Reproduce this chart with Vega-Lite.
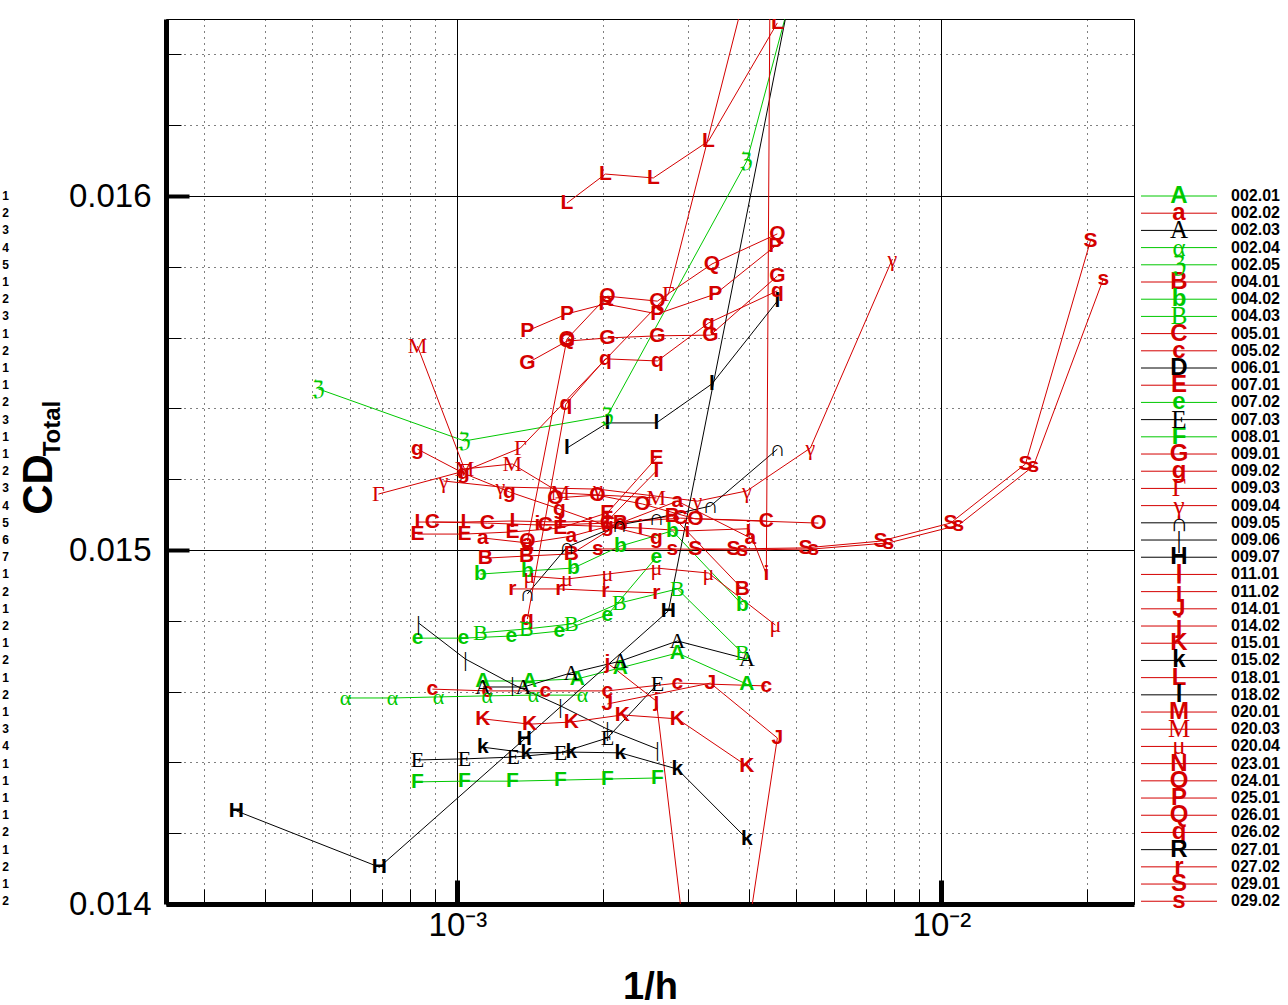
{
  "$schema": "https://vega.github.io/schema/vega-lite/v6.json",
  "padding": {"left": 0, "top": 18, "right": 0, "bottom": 0},
  "background": "white",
  "bounds": "flush",
  "spacing": 7,
  "config": {"view": {"stroke": null}, "font": "Liberation Sans"},
  "resolve": {
    "scale": {"x": "independent", "y": "independent", "color": "shared"},
    "axis": {"x": "independent", "y": "independent"}
  },
  "datasets": {
    "legend": [
      {"series": "002.01", "sym": "A", "row": 0, "sub": "1"},
      {"series": "002.02", "sym": "a", "row": 1, "sub": "2"},
      {"series": "002.03", "sym": "A", "row": 2, "sub": "3"},
      {"series": "002.04", "sym": "α", "row": 3, "sub": "4"},
      {"series": "002.05", "sym": "ℨ", "row": 4, "sub": "5"},
      {"series": "004.01", "sym": "B", "row": 5, "sub": "1"},
      {"series": "004.02", "sym": "b", "row": 6, "sub": "2"},
      {"series": "004.03", "sym": "B", "row": 7, "sub": "3"},
      {"series": "005.01", "sym": "C", "row": 8, "sub": "1"},
      {"series": "005.02", "sym": "c", "row": 9, "sub": "2"},
      {"series": "006.01", "sym": "D", "row": 10, "sub": "1"},
      {"series": "007.01", "sym": "E", "row": 11, "sub": "1"},
      {"series": "007.02", "sym": "e", "row": 12, "sub": "2"},
      {"series": "007.03", "sym": "E", "row": 13, "sub": "3"},
      {"series": "008.01", "sym": "F", "row": 14, "sub": "1"},
      {"series": "009.01", "sym": "G", "row": 15, "sub": "1"},
      {"series": "009.02", "sym": "g", "row": 16, "sub": "2"},
      {"series": "009.03", "sym": "Γ", "row": 17, "sub": "3"},
      {"series": "009.04", "sym": "γ", "row": 18, "sub": "4"},
      {"series": "009.05", "sym": "∩", "row": 19, "sub": "5"},
      {"series": "009.06", "sym": "|", "row": 20, "sub": "6"},
      {"series": "009.07", "sym": "H", "row": 21, "sub": "7"},
      {"series": "011.01", "sym": "I", "row": 22, "sub": "1"},
      {"series": "011.02", "sym": "i", "row": 23, "sub": "2"},
      {"series": "014.01", "sym": "J", "row": 24, "sub": "1"},
      {"series": "014.02", "sym": "j", "row": 25, "sub": "2"},
      {"series": "015.01", "sym": "K", "row": 26, "sub": "1"},
      {"series": "015.02", "sym": "k", "row": 27, "sub": "2"},
      {"series": "018.01", "sym": "L", "row": 28, "sub": "1"},
      {"series": "018.02", "sym": "l", "row": 29, "sub": "2"},
      {"series": "020.01", "sym": "M", "row": 30, "sub": "1"},
      {"series": "020.03", "sym": "M", "row": 31, "sub": "3"},
      {"series": "020.04", "sym": "μ", "row": 32, "sub": "4"},
      {"series": "023.01", "sym": "N", "row": 33, "sub": "1"},
      {"series": "024.01", "sym": "O", "row": 34, "sub": "1"},
      {"series": "025.01", "sym": "P", "row": 35, "sub": "1"},
      {"series": "026.01", "sym": "Q", "row": 36, "sub": "1"},
      {"series": "026.02", "sym": "q", "row": 37, "sub": "2"},
      {"series": "027.01", "sym": "R", "row": 38, "sub": "1"},
      {"series": "027.02", "sym": "r", "row": 39, "sub": "2"},
      {"series": "029.01", "sym": "S", "row": 40, "sub": "1"},
      {"series": "029.02", "sym": "s", "row": 41, "sub": "2"}
    ],
    "pts": [
      {"series": "002.01", "k": 0, "inv_h": 0.001129, "cd": 0.01463},
      {"series": "002.01", "k": 1, "inv_h": 0.001409, "cd": 0.01463},
      {"series": "002.01", "k": 2, "inv_h": 0.00177, "cd": 0.014636},
      {"series": "002.01", "k": 3, "inv_h": 0.002171, "cd": 0.014667},
      {"series": "002.01", "k": 4, "inv_h": 0.002848, "cd": 0.014709},
      {"series": "002.01", "k": 5, "inv_h": 0.003964, "cd": 0.014621},

      {"series": "002.02", "k": 0, "inv_h": 0.001129, "cd": 0.015034},
      {"series": "002.02", "k": 1, "inv_h": 0.001395, "cd": 0.01502},
      {"series": "002.02", "k": 2, "inv_h": 0.00172, "cd": 0.015039},
      {"series": "002.02", "k": 3, "inv_h": 0.002171, "cd": 0.015076},
      {"series": "002.02", "k": 4, "inv_h": 0.002848, "cd": 0.015138},
      {"series": "002.02", "k": 5, "inv_h": 0.004031, "cd": 0.015034},

      {"series": "002.03", "k": 0, "inv_h": 0.001129, "cd": 0.014613},
      {"series": "002.03", "k": 1, "inv_h": 0.001369, "cd": 0.014613},
      {"series": "002.03", "k": 2, "inv_h": 0.00172, "cd": 0.014653},
      {"series": "002.03", "k": 3, "inv_h": 0.002171, "cd": 0.014686},
      {"series": "002.03", "k": 4, "inv_h": 0.002848, "cd": 0.014743},
      {"series": "002.03", "k": 5, "inv_h": 0.003964, "cd": 0.014692},

      {"series": "002.04", "k": 0, "inv_h": 0.000587, "cd": 0.014582},
      {"series": "002.04", "k": 1, "inv_h": 0.000734, "cd": 0.014582},
      {"series": "002.04", "k": 2, "inv_h": 0.000914, "cd": 0.014585},
      {"series": "002.04", "k": 3, "inv_h": 0.001153, "cd": 0.014588},
      {"series": "002.04", "k": 4, "inv_h": 0.001436, "cd": 0.01459},
      {"series": "002.04", "k": 5, "inv_h": 0.001813, "cd": 0.01459},

      {"series": "002.05", "k": 0, "inv_h": 0.0005162, "cd": 0.015455},
      {"series": "002.05", "k": 1, "inv_h": 0.001034, "cd": 0.015308},
      {"series": "002.05", "k": 2, "inv_h": 0.002041, "cd": 0.015379},
      {"series": "002.05", "k": 3, "inv_h": 0.003964, "cd": 0.016099},
      {"series": "002.05", "k": 4, "inv_h": 0.007772, "cd": 0.017596},

      {"series": "004.01", "k": 0, "inv_h": 0.001142, "cd": 0.014977},
      {"series": "004.01", "k": 1, "inv_h": 0.001389, "cd": 0.014983},
      {"series": "004.01", "k": 2, "inv_h": 0.00172, "cd": 0.014989},
      {"series": "004.01", "k": 3, "inv_h": 0.002171, "cd": 0.015076},
      {"series": "004.01", "k": 4, "inv_h": 0.002781, "cd": 0.015096},
      {"series": "004.01", "k": 5, "inv_h": 0.00388, "cd": 0.01489},

      {"series": "004.02", "k": 0, "inv_h": 0.001116, "cd": 0.014932},
      {"series": "004.02", "k": 1, "inv_h": 0.001395, "cd": 0.014941},
      {"series": "004.02", "k": 2, "inv_h": 0.001737, "cd": 0.014949},
      {"series": "004.02", "k": 3, "inv_h": 0.002171, "cd": 0.015011},
      {"series": "004.02", "k": 4, "inv_h": 0.002781, "cd": 0.015054},
      {"series": "004.02", "k": 5, "inv_h": 0.00388, "cd": 0.014845},

      {"series": "004.03", "k": 0, "inv_h": 0.001116, "cd": 0.014766},
      {"series": "004.03", "k": 1, "inv_h": 0.001389, "cd": 0.014777},
      {"series": "004.03", "k": 2, "inv_h": 0.00172, "cd": 0.014791},
      {"series": "004.03", "k": 3, "inv_h": 0.002161, "cd": 0.01485},
      {"series": "004.03", "k": 4, "inv_h": 0.002848, "cd": 0.01489},
      {"series": "004.03", "k": 5, "inv_h": 0.00388, "cd": 0.014709},

      {"series": "005.01", "k": 0, "inv_h": 0.000888, "cd": 0.015079},
      {"series": "005.01", "k": 1, "inv_h": 0.001153, "cd": 0.015076},
      {"series": "005.01", "k": 2, "inv_h": 0.00152, "cd": 0.01507},
      {"series": "005.01", "k": 3, "inv_h": 0.002041, "cd": 0.015076},
      {"series": "005.01", "k": 4, "inv_h": 0.002889, "cd": 0.01509},
      {"series": "005.01", "k": 5, "inv_h": 0.004348, "cd": 0.015082},

      {"series": "005.02", "k": 0, "inv_h": 0.000888, "cd": 0.014607},
      {"series": "005.02", "k": 1, "inv_h": 0.001153, "cd": 0.014602},
      {"series": "005.02", "k": 2, "inv_h": 0.00152, "cd": 0.014602},
      {"series": "005.02", "k": 3, "inv_h": 0.002041, "cd": 0.014602},
      {"series": "005.02", "k": 4, "inv_h": 0.002848, "cd": 0.014624},
      {"series": "005.02", "k": 5, "inv_h": 0.004348, "cd": 0.014616},

      {"series": "007.01", "k": 0, "inv_h": 0.000827, "cd": 0.015045},
      {"series": "007.01", "k": 1, "inv_h": 0.001034, "cd": 0.015045},
      {"series": "007.01", "k": 2, "inv_h": 0.001299, "cd": 0.015051},
      {"series": "007.01", "k": 3, "inv_h": 0.001632, "cd": 0.015062},
      {"series": "007.01", "k": 4, "inv_h": 0.002041, "cd": 0.015105},
      {"series": "007.01", "k": 5, "inv_h": 0.002577, "cd": 0.01526},

      {"series": "007.02", "k": 0, "inv_h": 0.000827, "cd": 0.014751},
      {"series": "007.02", "k": 1, "inv_h": 0.001029, "cd": 0.014751},
      {"series": "007.02", "k": 2, "inv_h": 0.001293, "cd": 0.014757},
      {"series": "007.02", "k": 3, "inv_h": 0.001624, "cd": 0.014771},
      {"series": "007.02", "k": 4, "inv_h": 0.002041, "cd": 0.014816},
      {"series": "007.02", "k": 5, "inv_h": 0.002577, "cd": 0.01498},

      {"series": "007.03", "k": 0, "inv_h": 0.000827, "cd": 0.014407},
      {"series": "007.03", "k": 1, "inv_h": 0.001034, "cd": 0.01441},
      {"series": "007.03", "k": 2, "inv_h": 0.001304, "cd": 0.014415},
      {"series": "007.03", "k": 3, "inv_h": 0.001632, "cd": 0.014427},
      {"series": "007.03", "k": 4, "inv_h": 0.002041, "cd": 0.014469},
      {"series": "007.03", "k": 5, "inv_h": 0.002589, "cd": 0.014621},

      {"series": "008.01", "k": 0, "inv_h": 0.000827, "cd": 0.014345},
      {"series": "008.01", "k": 1, "inv_h": 0.001034, "cd": 0.014347},
      {"series": "008.01", "k": 2, "inv_h": 0.001299, "cd": 0.014347},
      {"series": "008.01", "k": 3, "inv_h": 0.001632, "cd": 0.01435},
      {"series": "008.01", "k": 4, "inv_h": 0.002041, "cd": 0.014353},
      {"series": "008.01", "k": 5, "inv_h": 0.002589, "cd": 0.014356},

      {"series": "009.01", "k": 0, "inv_h": 0.001395, "cd": 0.015528},
      {"series": "009.01", "k": 1, "inv_h": 0.001684, "cd": 0.01559},
      {"series": "009.01", "k": 2, "inv_h": 0.002041, "cd": 0.015599},
      {"series": "009.01", "k": 3, "inv_h": 0.002589, "cd": 0.015605},
      {"series": "009.01", "k": 4, "inv_h": 0.003332, "cd": 0.015607},
      {"series": "009.01", "k": 5, "inv_h": 0.004582, "cd": 0.015774},

      {"series": "009.02", "k": 0, "inv_h": 0.000827, "cd": 0.015285},
      {"series": "009.02", "k": 1, "inv_h": 0.001029, "cd": 0.015217},
      {"series": "009.02", "k": 2, "inv_h": 0.001281, "cd": 0.015164},
      {"series": "009.02", "k": 3, "inv_h": 0.001624, "cd": 0.015116},
      {"series": "009.02", "k": 4, "inv_h": 0.002041, "cd": 0.015068},
      {"series": "009.02", "k": 5, "inv_h": 0.002577, "cd": 0.015034},

      {"series": "009.03", "k": 0, "inv_h": 0.0006867, "cd": 0.015158},
      {"series": "009.03", "k": 1, "inv_h": 0.001034, "cd": 0.015223},
      {"series": "009.03", "k": 2, "inv_h": 0.001349, "cd": 0.015288},
      {"series": "009.03", "k": 3, "inv_h": 0.002729, "cd": 0.015723},
      {"series": "009.03", "k": 4, "inv_h": 0.004227, "cd": 0.016743},

      {"series": "009.04", "k": 0, "inv_h": 0.000936, "cd": 0.015195},
      {"series": "009.04", "k": 1, "inv_h": 0.001227, "cd": 0.015178},
      {"series": "009.04", "k": 2, "inv_h": 0.001951, "cd": 0.015172},
      {"series": "009.04", "k": 3, "inv_h": 0.003132, "cd": 0.015138},
      {"series": "009.04", "k": 4, "inv_h": 0.003964, "cd": 0.015167},
      {"series": "009.04", "k": 5, "inv_h": 0.005362, "cd": 0.015288},
      {"series": "009.04", "k": 6, "inv_h": 0.007922, "cd": 0.015822},

      {"series": "009.05", "k": 0, "inv_h": 0.001395, "cd": 0.014876},
      {"series": "009.05", "k": 1, "inv_h": 0.001684, "cd": 0.015008},
      {"series": "009.05", "k": 2, "inv_h": 0.002161, "cd": 0.015071},
      {"series": "009.05", "k": 3, "inv_h": 0.002577, "cd": 0.01509},
      {"series": "009.05", "k": 4, "inv_h": 0.003332, "cd": 0.015124},
      {"series": "009.05", "k": 5, "inv_h": 0.004582, "cd": 0.015285},

      {"series": "009.06", "k": 0, "inv_h": 0.000831, "cd": 0.014794},
      {"series": "009.06", "k": 1, "inv_h": 0.001039, "cd": 0.014692},
      {"series": "009.06", "k": 2, "inv_h": 0.001299, "cd": 0.014621},
      {"series": "009.06", "k": 3, "inv_h": 0.001632, "cd": 0.01456},
      {"series": "009.06", "k": 4, "inv_h": 0.002041, "cd": 0.014494},
      {"series": "009.06", "k": 5, "inv_h": 0.002589, "cd": 0.014438},

      {"series": "009.07", "k": 0, "inv_h": 0.0003494, "cd": 0.014263},
      {"series": "009.07", "k": 1, "inv_h": 0.00069, "cd": 0.014104},
      {"series": "009.07", "k": 2, "inv_h": 0.001375, "cd": 0.014466},
      {"series": "009.07", "k": 3, "inv_h": 0.002729, "cd": 0.014828},
      {"series": "009.07", "k": 4, "inv_h": 0.005414, "cd": 0.016887},

      {"series": "011.01", "k": 0, "inv_h": 0.000827, "cd": 0.015079},
      {"series": "011.01", "k": 1, "inv_h": 0.001029, "cd": 0.015079},
      {"series": "011.01", "k": 2, "inv_h": 0.001299, "cd": 0.015082},
      {"series": "011.01", "k": 3, "inv_h": 0.001632, "cd": 0.015079},
      {"series": "011.01", "k": 4, "inv_h": 0.002041, "cd": 0.015082},
      {"series": "011.01", "k": 5, "inv_h": 0.002577, "cd": 0.015223},

      {"series": "011.02", "k": 0, "inv_h": 0.001463, "cd": 0.015073},
      {"series": "011.02", "k": 1, "inv_h": 0.001883, "cd": 0.015068},
      {"series": "011.02", "k": 2, "inv_h": 0.002388, "cd": 0.015062},
      {"series": "011.02", "k": 3, "inv_h": 0.002987, "cd": 0.015054},
      {"series": "011.02", "k": 4, "inv_h": 0.003993, "cd": 0.01506},
      {"series": "011.02", "k": 5, "inv_h": 0.004348, "cd": 0.014932},
      {"series": "011.02", "k": 6, "inv_h": 0.004475, "cd": 0.017681},

      {"series": "014.01", "k": 0, "inv_h": 0.002041, "cd": 0.014565},
      {"series": "014.01", "k": 1, "inv_h": 0.003332, "cd": 0.014624},
      {"series": "014.01", "k": 2, "inv_h": 0.004582, "cd": 0.014469},
      {"series": "014.01", "k": 3, "inv_h": 0.003059, "cd": 0.012878},

      {"series": "014.02", "k": 0, "inv_h": 0.002041, "cd": 0.014681},
      {"series": "014.02", "k": 1, "inv_h": 0.002577, "cd": 0.014573},
      {"series": "014.02", "k": 2, "inv_h": 0.003332, "cd": 0.013283},

      {"series": "015.01", "k": 0, "inv_h": 0.001129, "cd": 0.014523},
      {"series": "015.01", "k": 1, "inv_h": 0.001409, "cd": 0.014508},
      {"series": "015.01", "k": 2, "inv_h": 0.00172, "cd": 0.014514},
      {"series": "015.01", "k": 3, "inv_h": 0.002192, "cd": 0.014534},
      {"series": "015.01", "k": 4, "inv_h": 0.002848, "cd": 0.014523},
      {"series": "015.01", "k": 5, "inv_h": 0.003964, "cd": 0.01439},

      {"series": "015.02", "k": 0, "inv_h": 0.001129, "cd": 0.014443},
      {"series": "015.02", "k": 1, "inv_h": 0.001389, "cd": 0.014427},
      {"series": "015.02", "k": 2, "inv_h": 0.00172, "cd": 0.014429},
      {"series": "015.02", "k": 3, "inv_h": 0.002171, "cd": 0.014427},
      {"series": "015.02", "k": 4, "inv_h": 0.002848, "cd": 0.014381},
      {"series": "015.02", "k": 5, "inv_h": 0.003964, "cd": 0.014184},

      {"series": "018.01", "k": 0, "inv_h": 0.001684, "cd": 0.01598},
      {"series": "018.01", "k": 1, "inv_h": 0.002022, "cd": 0.016062},
      {"series": "018.01", "k": 2, "inv_h": 0.00254, "cd": 0.016051},
      {"series": "018.01", "k": 3, "inv_h": 0.003301, "cd": 0.016155},
      {"series": "018.01", "k": 4, "inv_h": 0.004582, "cd": 0.016489},

      {"series": "018.02", "k": 0, "inv_h": 0.001684, "cd": 0.015288},
      {"series": "018.02", "k": 1, "inv_h": 0.002041, "cd": 0.015359},
      {"series": "018.02", "k": 2, "inv_h": 0.002577, "cd": 0.015359},
      {"series": "018.02", "k": 3, "inv_h": 0.003355, "cd": 0.015469},
      {"series": "018.02", "k": 4, "inv_h": 0.004582, "cd": 0.015703},

      {"series": "020.03", "k": 0, "inv_h": 0.000827, "cd": 0.015576},
      {"series": "020.03", "k": 1, "inv_h": 0.001034, "cd": 0.015229},
      {"series": "020.03", "k": 2, "inv_h": 0.001299, "cd": 0.015243},
      {"series": "020.03", "k": 3, "inv_h": 0.001632, "cd": 0.015161},
      {"series": "020.03", "k": 4, "inv_h": 0.002577, "cd": 0.015147},

      {"series": "020.04", "k": 0, "inv_h": 0.001409, "cd": 0.014926},
      {"series": "020.04", "k": 1, "inv_h": 0.001684, "cd": 0.014918},
      {"series": "020.04", "k": 2, "inv_h": 0.002041, "cd": 0.014932},
      {"series": "020.04", "k": 3, "inv_h": 0.002577, "cd": 0.014949},
      {"series": "020.04", "k": 4, "inv_h": 0.003301, "cd": 0.014935},
      {"series": "020.04", "k": 5, "inv_h": 0.004539, "cd": 0.014788},

      {"series": "024.01", "k": 0, "inv_h": 0.001594, "cd": 0.015147},
      {"series": "024.01", "k": 1, "inv_h": 0.001946, "cd": 0.015155},
      {"series": "024.01", "k": 2, "inv_h": 0.002411, "cd": 0.01513},
      {"series": "024.01", "k": 3, "inv_h": 0.003102, "cd": 0.015088},
      {"series": "024.01", "k": 4, "inv_h": 0.00557, "cd": 0.015076},

      {"series": "025.01", "k": 0, "inv_h": 0.001395, "cd": 0.015619},
      {"series": "025.01", "k": 1, "inv_h": 0.001684, "cd": 0.015667},
      {"series": "025.01", "k": 2, "inv_h": 0.002022, "cd": 0.015695},
      {"series": "025.01", "k": 3, "inv_h": 0.002589, "cd": 0.015667},
      {"series": "025.01", "k": 4, "inv_h": 0.003412, "cd": 0.015723},
      {"series": "025.01", "k": 5, "inv_h": 0.004539, "cd": 0.015859},

      {"series": "026.01", "k": 0, "inv_h": 0.001395, "cd": 0.015025},
      {"series": "026.01", "k": 1, "inv_h": 0.001684, "cd": 0.015596},
      {"series": "026.01", "k": 2, "inv_h": 0.002041, "cd": 0.015717},
      {"series": "026.01", "k": 3, "inv_h": 0.002589, "cd": 0.015703},
      {"series": "026.01", "k": 4, "inv_h": 0.003358, "cd": 0.015808},
      {"series": "026.01", "k": 5, "inv_h": 0.004582, "cd": 0.015893},

      {"series": "026.02", "k": 0, "inv_h": 0.001395, "cd": 0.014805},
      {"series": "026.02", "k": 1, "inv_h": 0.001675, "cd": 0.015412},
      {"series": "026.02", "k": 2, "inv_h": 0.002022, "cd": 0.01554},
      {"series": "026.02", "k": 3, "inv_h": 0.002589, "cd": 0.015534},
      {"series": "026.02", "k": 4, "inv_h": 0.003301, "cd": 0.015641},
      {"series": "026.02", "k": 5, "inv_h": 0.004582, "cd": 0.015732},

      {"series": "027.02", "k": 0, "inv_h": 0.001299, "cd": 0.01489},
      {"series": "027.02", "k": 1, "inv_h": 0.001624, "cd": 0.01489},
      {"series": "027.02", "k": 2, "inv_h": 0.002022, "cd": 0.014884},
      {"series": "027.02", "k": 3, "inv_h": 0.002577, "cd": 0.014879},

      {"series": "029.01", "k": 0, "inv_h": 0.003102, "cd": 0.015003},
      {"series": "029.01", "k": 1, "inv_h": 0.003718, "cd": 0.015003},
      {"series": "029.01", "k": 2, "inv_h": 0.005236, "cd": 0.015006},
      {"series": "029.01", "k": 3, "inv_h": 0.007482, "cd": 0.015025},
      {"series": "029.01", "k": 4, "inv_h": 0.01044, "cd": 0.015076},
      {"series": "029.01", "k": 5, "inv_h": 0.01492, "cd": 0.015243},
      {"series": "029.01", "k": 6, "inv_h": 0.02032, "cd": 0.015873},

      {"series": "029.02", "k": 0, "inv_h": 0.001951, "cd": 0.015003},
      {"series": "029.02", "k": 1, "inv_h": 0.002781, "cd": 0.015003},
      {"series": "029.02", "k": 2, "inv_h": 0.00388, "cd": 0.015},
      {"series": "029.02", "k": 3, "inv_h": 0.005439, "cd": 0.015003},
      {"series": "029.02", "k": 4, "inv_h": 0.007772, "cd": 0.01502},
      {"series": "029.02", "k": 5, "inv_h": 0.01084, "cd": 0.01507},
      {"series": "029.02", "k": 6, "inv_h": 0.01549, "cd": 0.015237},
      {"series": "029.02", "k": 7, "inv_h": 0.02161, "cd": 0.015766}
    ]
  },
  "hconcat": [
    {
      "width": 159,
      "height": 885,
      "data": {"name": "legend"},
      "mark": {"type": "text", "font": "Liberation Sans", "fontWeight": "bold", "fontSize": 12, "align": "center", "baseline": "middle", "color": "black"},
      "encoding": {
        "x": {"datum": 5.5, "type": "quantitative", "scale": {"domain": [0, 159], "nice": false, "zero": false}, "axis": null},
        "y": {
          "field": "row", "type": "quantitative",
          "scale": {"domain": [-10.29, 41.16], "reverse": true, "nice": false, "zero": false},
          "axis": {
            "orient": "right", "labels": false, "ticks": false, "domain": false, "grid": false,
            "title": "Total", "titleFont": "Liberation Sans", "titleFontSize": 24, "titleFontWeight": "bold",
            "titleColor": "black", "titleAngle": -90, "titleBaseline": "middle", "titleAlign": "center",
            "titleX": -107, "titleY": 409
          }
        },
        "text": {"field": "sub"}
      }
    },
    {
      "width": 968,
      "height": 885,
      "view": {"stroke": "black", "strokeWidth": 1},
      "data": {"name": "pts"},
      "layer": [
        {
          "mark": {"type": "line", "clip": true, "strokeWidth": 1},
          "encoding": {
            "x": {
              "field": "inv_h", "type": "quantitative",
              "scale": {"type": "log", "domain": [0.00025, 0.025], "nice": false},
              "axis": {
                "orient": "bottom",
                "values": [0.0003, 0.0004, 0.0005, 0.0006, 0.0007, 0.0008, 0.0009, 0.001, 0.002, 0.003, 0.004, 0.005, 0.006, 0.007, 0.008, 0.009, 0.01, 0.02],
                "labelExpr": "datum.value == 0.001 ? '10⁻³' : (datum.value == 0.01 ? '10⁻²' : '')",
                "labelFont": "Liberation Sans", "labelFontSize": 33, "labelColor": "black", "labelPadding": 29,
                "labelFlush": false, "labelOverlap": false,
                "grid": true, "gridColor": "black", "gridWidth": 1,
                "gridDash": {"condition": {"test": "datum.value == 0.001 || datum.value == 0.01", "value": []}, "value": [1, 5]},
                "domainColor": "black", "domainWidth": 5,
                "tickColor": "black",
                "tickSize": {"condition": {"test": "datum.value == 0.001 || datum.value == 0.01", "value": -24}, "value": -15},
                "tickWidth": {"condition": {"test": "datum.value == 0.001 || datum.value == 0.01", "value": 5}, "value": 1},
                "title": "1/h", "titleFont": "Liberation Sans", "titleFontSize": 38, "titleFontWeight": "bold",
                "titleColor": "black", "titlePadding": 17
              }
            },
            "y": {
              "field": "cd", "type": "quantitative",
              "scale": {"domain": [0.014, 0.0165], "nice": false, "zero": false},
              "axis": {
                "values": [0.014, 0.0141, 0.0142, 0.0143, 0.0144, 0.0145, 0.0146, 0.0147, 0.0148, 0.0149, 0.015, 0.0151, 0.0152, 0.0153, 0.0154, 0.0155, 0.0156, 0.0157, 0.0158, 0.0159, 0.016, 0.0161, 0.0162, 0.0163, 0.0164, 0.0165],
                "labelExpr": "abs(datum.value * 2000 - round(datum.value * 2000)) < 0.01 ? format(datum.value, '.4~f') : ''",
                "labelFont": "Liberation Sans", "labelFontSize": 33, "labelColor": "black", "labelPadding": 38,
                "labelFlush": false, "labelOverlap": false,
                "grid": true, "gridColor": "black", "gridWidth": 1,
                "gridDash": {"condition": {"test": "abs(datum.value * 2000 - round(datum.value * 2000)) < 0.01", "value": []}, "value": [1, 5]},
                "domainColor": "black", "domainWidth": 5,
                "tickColor": "black",
                "tickSize": {"condition": {"test": "abs(datum.value * 2000 - round(datum.value * 2000)) < 0.01", "value": -23}, "value": -15},
                "tickWidth": {"condition": {"test": "abs(datum.value * 2000 - round(datum.value * 2000)) < 0.01", "value": 4}, "value": 1},
                "title": "CD", "titleFont": "Liberation Sans", "titleFontSize": 42, "titleFontWeight": "bold",
                "titleColor": "black", "titleAngle": -90, "titleBaseline": "middle", "titleAlign": "center",
                "titleX": -128, "titleY": 465
              }
            },
            "color": {
              "field": "series", "type": "nominal", "legend": null,
              "scale": {
                "domain": ["002.01", "002.02", "002.03", "002.04", "002.05", "004.01", "004.02", "004.03", "005.01", "005.02", "006.01", "007.01", "007.02", "007.03", "008.01", "009.01", "009.02", "009.03", "009.04", "009.05", "009.06", "009.07", "011.01", "011.02", "014.01", "014.02", "015.01", "015.02", "018.01", "018.02", "020.01", "020.03", "020.04", "023.01", "024.01", "025.01", "026.01", "026.02", "027.01", "027.02", "029.01", "029.02"],
                "range": ["#00c800", "#d40000", "#000000", "#00c800", "#00c800", "#d40000", "#00c800", "#00c800", "#d40000", "#d40000", "#000000", "#d40000", "#00c800", "#000000", "#00c800", "#d40000", "#d40000", "#d40000", "#d40000", "#000000", "#000000", "#000000", "#d40000", "#d40000", "#d40000", "#d40000", "#d40000", "#000000", "#d40000", "#000000", "#d40000", "#d40000", "#d40000", "#d40000", "#d40000", "#d40000", "#d40000", "#d40000", "#000000", "#d40000", "#d40000", "#d40000"]
              }
            },
            "order": {"field": "k", "type": "quantitative"}
          }
        },
        {
          "transform": [
            {"filter": {"not": {"field": "series", "oneOf": ["002.03", "002.04", "002.05", "004.03", "007.03", "009.03", "009.04", "009.05", "009.06", "020.03", "020.04"]}}},
            {"lookup": "series", "from": {"data": {"name": "legend"}, "key": "series", "fields": ["sym"]}}
          ],
          "mark": {"type": "text", "clip": true, "font": "Liberation Sans", "fontWeight": "bold", "fontSize": 21, "align": "center", "baseline": "middle"},
          "encoding": {
            "x": {"field": "inv_h", "type": "quantitative"},
            "y": {"field": "cd", "type": "quantitative"},
            "text": {"field": "sym"},
            "color": {"field": "series", "type": "nominal", "legend": null}
          }
        },
        {
          "transform": [
            {"filter": {"field": "series", "oneOf": ["002.03", "002.04", "002.05", "004.03", "007.03", "009.03", "009.04", "009.05", "009.06", "020.03", "020.04"]}},
            {"lookup": "series", "from": {"data": {"name": "legend"}, "key": "series", "fields": ["sym"]}}
          ],
          "mark": {"type": "text", "clip": true, "font": "Liberation Serif", "fontSize": 22, "align": "center", "baseline": "middle"},
          "encoding": {
            "x": {"field": "inv_h", "type": "quantitative"},
            "y": {"field": "cd", "type": "quantitative"},
            "text": {"field": "sym"},
            "color": {"field": "series", "type": "nominal", "legend": null}
          }
        }
      ]
    },
    {
      "width": 147,
      "height": 885,
      "data": {"name": "legend"},
      "encoding": {
        "y": {"field": "row", "type": "quantitative", "scale": {"domain": [-10.29, 41.16], "reverse": true, "nice": false, "zero": false}, "axis": null},
        "color": {"field": "series", "type": "nominal", "legend": null}
      },
      "layer": [
        {
          "mark": {"type": "rule", "strokeWidth": 1},
          "encoding": {
            "x": {"datum": 0, "type": "quantitative", "scale": {"domain": [0, 147], "nice": false, "zero": false}, "axis": null},
            "x2": {"datum": 76}
          }
        },
        {
          "transform": [{"filter": {"not": {"field": "series", "oneOf": ["002.03", "002.04", "002.05", "004.03", "007.03", "009.03", "009.04", "009.05", "009.06", "020.03", "020.04"]}}}],
          "mark": {"type": "text", "font": "Liberation Sans", "fontWeight": "bold", "fontSize": 24, "align": "center", "baseline": "middle"},
          "encoding": {"x": {"datum": 38, "type": "quantitative"}, "text": {"field": "sym"}}
        },
        {
          "transform": [{"filter": {"field": "series", "oneOf": ["002.03", "002.04", "002.05", "004.03", "007.03", "009.03", "009.04", "009.05", "009.06", "020.03", "020.04"]}}],
          "mark": {"type": "text", "font": "Liberation Serif", "fontSize": 25, "align": "center", "baseline": "middle"},
          "encoding": {"x": {"datum": 38, "type": "quantitative"}, "text": {"field": "sym"}}
        },
        {
          "mark": {"type": "text", "font": "Liberation Sans", "fontWeight": "bold", "fontSize": 16, "align": "left", "baseline": "middle", "color": "black"},
          "encoding": {"x": {"datum": 90, "type": "quantitative"}, "text": {"field": "series"}, "color": {"value": "black"}}
        }
      ]
    }
  ]
}
